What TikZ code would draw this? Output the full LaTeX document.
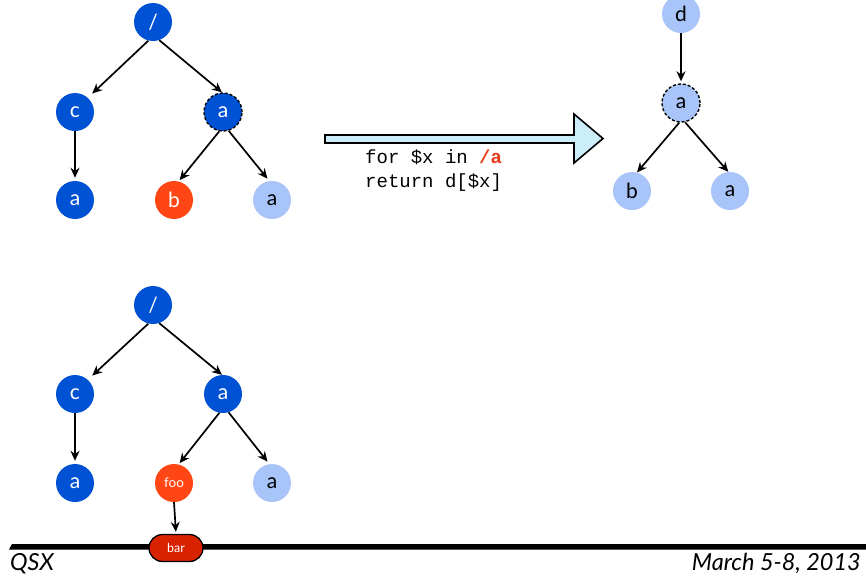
\documentclass[tikz,border=0pt]{standalone}
\usepackage{fontspec}
\setmainfont{Lato}
\setmonofont{Liberation Mono}
\usetikzlibrary{arrows.meta,shapes.misc}
\definecolor{dblue}{HTML}{0052D4}
\definecolor{rorange}{HTML}{FF4614}
\definecolor{lblue}{HTML}{A8C4F8}
\definecolor{barred}{HTML}{D92300}
\definecolor{arrfill}{HTML}{CCEEFB}
\definecolor{codered}{HTML}{E63A1A}
\tikzset{
  nd/.style={circle, minimum size=38pt, inner sep=0pt, font=\fontsize{21}{21}\selectfont},
  dk/.style={nd, fill=dblue, text=white},
  rd/.style={nd, fill=rorange, text=white},
  lt/.style={nd, fill=lblue, text=black},
  sel/.style={draw=black, line width=1.4pt, dash pattern=on 3pt off 2pt},
  edge/.style={-{Stealth[length=10pt,width=9pt]}, line width=1.7pt},
  footer/.style={font=\fontsize{23.5}{23.5}\selectfont\itshape, inner sep=0pt},
}
\begin{document}
\begin{tikzpicture}[x=1pt,y=-1pt]
\useasboundingbox (0,0) rectangle (866,581);

% top-left tree
\node[dk] (r1) at (153,22) {/};
\node[dk] (c1) at (75,112) {c};
\node[dk,sel] (a1) at (223,112) {a};
\node[dk] (l1) at (75,200) {a};
\node[rd] (b1) at (174,200) {b};
\node[lt] (m1) at (272,200) {a};
\draw[edge, shorten >=6pt] (r1.256) -- (c1.48);
\draw[edge] (r1.289) -- (a1.93);
\draw[edge, shorten >=3pt] (c1.south) -- (l1.north);
\draw[edge, shorten >=1.5pt] (a1.259) -- (b1.76);
\draw[edge, shorten >=3pt] (a1.287) -- (m1.98);

% big arrow
\draw[line width=1.6pt, fill=arrfill, line join=miter]
  (325,135) -- (574,135) -- (574,114) -- (603,138.5) -- (574,163) -- (574,143) -- (325,143) -- cycle;
\node[anchor=west, inner sep=0pt, align=left, font=\fontsize{19}{24}\selectfont\ttfamily] (code) at (365,171)
  {for \$x in {\color{codered}\bfseries /a}\\return d[\$x]};

% right tree
\node[lt] (d2) at (681,14) {d};
\node[lt,sel] (a2) at (681,103) {a};
\node[lt] (b2) at (632,191) {b};
\node[lt] (m2) at (730,191) {a};
\draw[edge, shorten >=2pt] (d2.south) -- (a2.north);
\draw[edge] (a2.265) -- (b2.75);
\draw[edge] (a2.282) -- (m2.95);

% bottom tree
\node[dk] (r3) at (153,305) {/};
\node[dk] (c3) at (75,394) {c};
\node[dk] (a3) at (223,394) {a};
\node[dk] (l3) at (75,483) {a};
\node[rd, font=\fontsize{13.5}{13.5}\selectfont] (f3) at (174,483) {foo};
\node[lt] (m3) at (272,483) {a};
\draw[edge, shorten >=6pt] (r3.256) -- (c3.48);
\draw[edge] (r3.289) -- (a3.93);
\draw[edge, shorten >=3pt] (c3.south) -- (l3.north);
\draw[edge, shorten >=1.5pt] (a3.259) -- (f3.76);
\draw[edge, shorten >=3pt] (a3.287) -- (m3.98);

% footer bar
\fill[black] (9,549.5) -- (12,544) -- (866,544) -- (866,549.5) -- cycle;
\node[rounded rectangle, draw=black, line width=1.3pt, fill=barred, text=white,
      minimum width=54pt, minimum height=27pt, inner sep=0pt,
      font=\fontsize{12.5}{12.5}\selectfont] (bar) at (176,548) {bar};
\draw[edge, shorten >=2pt] (f3.south) -- (bar.north);

\node[footer, anchor=base west] (qsx) at (10,570) {QSX};
\node[footer, anchor=base east] (date) at (861,570) {March 5-8, 2013};
\end{tikzpicture}
\end{document}
